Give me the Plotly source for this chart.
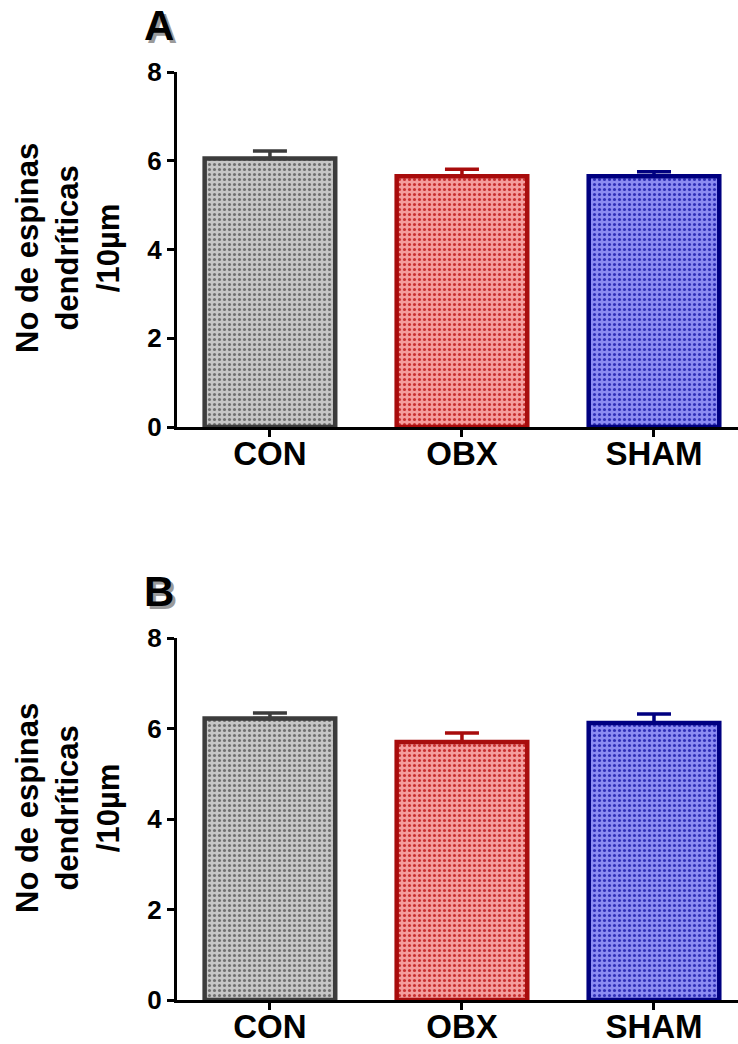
import plotly.graph_objects as go

W, H = 738, 1044

categories = ["CON", "OBX", "SHAM"]
means_A = [6.05, 5.65, 5.65]
sem_A = [0.17, 0.16, 0.10]
means_B = [6.22, 5.70, 6.12]
sem_B = [0.12, 0.20, 0.20]
y_ticks = [0, 2, 4, 6, 8]
y_title = "No de espinas<br>dendríticas<br>/10µm"
panel_labels = ["A", "B"]

fill_colors = ["#c6c6c6", "#f49c9c", "#8c8cf2"]
pattern_colors = ["#707070", "#c83030", "#3030b8"]
line_colors = ["#3c3c3c", "#a80c0c", "#000080"]

FONT = "Liberation Sans, Arial, sans-serif"

fig = go.Figure()

def px_x(p):
    return p / W

def px_y(p):
    return 1 - p / H

panels = [
    (means_A, sem_A, "x", "y"),
    (means_B, sem_B, "x2", "y2"),
]

for means, sems, xa, ya in panels:
    for i, cat in enumerate(categories):
        fig.add_trace(go.Bar(
            x=[cat], y=[means[i]],
            xaxis=xa, yaxis=ya,
            width=0.68,
            marker=dict(
                color=fill_colors[i],
                line=dict(color=line_colors[i], width=4.5),
                pattern=dict(shape=".", size=5, solidity=0.3,
                             fgcolor=pattern_colors[i], bgcolor=fill_colors[i],
                             fillmode="replace"),
            ),
            error_y=dict(type="data", symmetric=False, array=[sems[i]], arrayminus=[0],
                         color=line_colors[i], thickness=3.5, width=17),
            showlegend=False,
        ))

xdom = [px_x(177), 1.0]
xrange = [-0.484, 2.4375]

common_x = dict(
    domain=xdom, range=xrange, showline=True, linecolor="black", linewidth=3,
    ticks="outside", ticklen=7, tickwidth=3, tickcolor="black",
    tickfont=dict(family=FONT, size=33, color="black", weight="bold"),
    ticklabelstandoff=-12,
    showgrid=False, zeroline=False, fixedrange=True, automargin=False,
    categoryorder="array", categoryarray=categories,
)
common_y = dict(
    range=[0, 8], tickvals=y_ticks, showline=True, linecolor="black", linewidth=3,
    ticks="outside", ticklen=7, tickwidth=3, tickcolor="black",
    tickfont=dict(family=FONT, size=26, color="black", weight="bold"),
    showgrid=False, zeroline=False, fixedrange=True, automargin=False,
)

fig.update_layout(
    width=W, height=H,
    margin=dict(l=0, r=0, t=0, b=0, pad=0, autoexpand=False),
    paper_bgcolor="white", plot_bgcolor="white",
    bargap=0.3,
    xaxis=dict(**common_x, anchor="y"),
    yaxis=dict(**common_y, domain=[px_y(427), px_y(72)], anchor="x"),
    xaxis2=dict(**common_x, anchor="y2"),
    yaxis2=dict(**common_y, domain=[px_y(1000), px_y(638)], anchor="x2"),
)

# y-axis titles
for yc in [248, 808]:
    fig.add_annotation(
        x=px_x(68), y=px_y(yc), xref="paper", yref="paper",
        text=y_title, showarrow=False, textangle=-90,
        xanchor="center", yanchor="middle", align="center",
        font=dict(family=FONT, size=31, color="black", weight="bold"),
    )

# panel labels
for lab, ytop in zip(panel_labels, [0, 566]):
    fig.add_annotation(
        x=px_x(159), y=px_y(ytop), xref="paper", yref="paper",
        text=lab, showarrow=False, xanchor="center", yanchor="top",
        font=dict(family=FONT, size=42, color="black", weight="bold",
                  shadow="3px 3px 0px #9a9a9a"),
    )

fig.write_html("out.html")
